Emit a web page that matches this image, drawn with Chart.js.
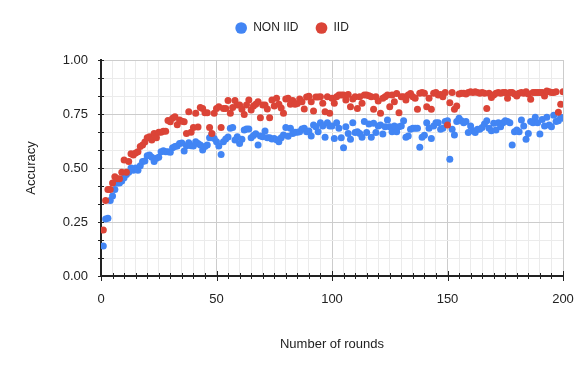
<!DOCTYPE html>
<html>
<head>
<meta charset="utf-8">
<script src="https://cdn.jsdelivr.net/npm/chart.js@4.4.1/dist/chart.umd.min.js"></script>
<style>
  html, body { margin: 0; padding: 0; background: #ffffff; }
  #wrap { width: 584px; height: 371px; position: relative; }
</style>
</head>
<body>
<div id="wrap"><canvas id="c" width="584" height="371"></canvas></div>
<script>
// ---- data ----
const seriesNames = ["NON IID", "IID"];
const rounds = Array.from({ length: 200 }, (_, i) => i + 1);

const nonIid = [
  0.139, 0.264, 0.267, 0.350, 0.370, 0.400, 0.430, 0.430, 0.440, 0.455,
  0.470, 0.480, 0.500, 0.490, 0.500, 0.490, 0.510, 0.530, 0.532, 0.557,
  0.560, 0.550, 0.530, 0.545, 0.550, 0.575, 0.580, 0.575, 0.575, 0.573,
  0.594, 0.599, 0.602, 0.614, 0.616, 0.579, 0.603, 0.617, 0.603, 0.602,
  0.622, 0.614, 0.606, 0.583, 0.599, 0.606, 0.640, 0.656, 0.637, 0.622,
  0.602, 0.563, 0.622, 0.634, 0.643, 0.684, 0.687, 0.630, 0.645, 0.614,
  0.633, 0.676, 0.681, 0.681, 0.640, 0.650, 0.659, 0.606, 0.648, 0.645,
  0.671, 0.640, 0.640, 0.634, 0.637, 0.631, 0.622, 0.640, 0.653, 0.687,
  0.647, 0.684, 0.660, 0.665, 0.665, 0.668, 0.681, 0.684, 0.668, 0.671,
  0.648, 0.699, 0.691, 0.668, 0.710, 0.694, 0.642, 0.710, 0.694, 0.694,
  0.637, 0.710, 0.684, 0.640, 0.594, 0.691, 0.660, 0.633, 0.710, 0.664,
  0.668, 0.660, 0.642, 0.715, 0.664, 0.704, 0.642, 0.707, 0.664, 0.694,
  0.699, 0.657, 0.691, 0.722, 0.691, 0.668, 0.694, 0.668, 0.691, 0.694,
  0.719, 0.642, 0.648, 0.679, 0.684, 0.684, 0.684, 0.596, 0.642, 0.652,
  0.710, 0.684, 0.637, 0.694, 0.710, 0.710, 0.679, 0.684, 0.715, 0.719,
  0.540, 0.679, 0.653, 0.715, 0.730, 0.719, 0.710, 0.715, 0.664, 0.694,
  0.673, 0.664, 0.679, 0.679, 0.688, 0.704, 0.719, 0.684, 0.673, 0.707,
  0.676, 0.710, 0.691, 0.710, 0.719, 0.715, 0.710, 0.606, 0.668, 0.676,
  0.668, 0.722, 0.694, 0.633, 0.660, 0.715, 0.710, 0.735, 0.710, 0.657,
  0.725, 0.694, 0.735, 0.699, 0.691, 0.744, 0.715, 0.719, 0.735, 0.730
];

const iid = [
  0.213, 0.350, 0.400, 0.400, 0.430, 0.460, 0.450, 0.450, 0.480, 0.537,
  0.480, 0.530, 0.566, 0.560, 0.570, 0.575, 0.600, 0.607, 0.620, 0.640,
  0.645, 0.630, 0.660, 0.640, 0.665, 0.665, 0.670, 0.670, 0.720, 0.714,
  0.730, 0.737, 0.700, 0.722, 0.717, 0.714, 0.660, 0.760, 0.665, 0.687,
  0.753, 0.690, 0.780, 0.776, 0.756, 0.756, 0.687, 0.660, 0.753, 0.776,
  0.784, 0.687, 0.776, 0.776, 0.812, 0.753, 0.780, 0.813, 0.792, 0.792,
  0.772, 0.748, 0.792, 0.815, 0.769, 0.787, 0.795, 0.807, 0.733, 0.792,
  0.792, 0.773, 0.733, 0.815, 0.787, 0.823, 0.795, 0.778, 0.753, 0.819,
  0.823, 0.795, 0.813, 0.795, 0.799, 0.819, 0.807, 0.773, 0.829, 0.832,
  0.807, 0.764, 0.829, 0.829, 0.830, 0.800, 0.760, 0.830, 0.753, 0.823,
  0.800, 0.830, 0.838, 0.838, 0.838, 0.815, 0.840, 0.784, 0.820, 0.830,
  0.776, 0.830, 0.800, 0.838, 0.838, 0.835, 0.830, 0.772, 0.830, 0.810,
  0.753, 0.823, 0.830, 0.838, 0.784, 0.838, 0.807, 0.845, 0.756, 0.830,
  0.830, 0.815, 0.838, 0.845, 0.830, 0.823, 0.772, 0.846, 0.850, 0.846,
  0.784, 0.823, 0.772, 0.846, 0.850, 0.838, 0.840, 0.830, 0.849, 0.699,
  0.802, 0.849, 0.772, 0.787, 0.843, 0.846, 0.846, 0.843, 0.849, 0.853,
  0.849, 0.853, 0.849, 0.846, 0.849, 0.846, 0.776, 0.846, 0.826, 0.838,
  0.846, 0.849, 0.846, 0.849, 0.849, 0.823, 0.849, 0.849, 0.843, 0.833,
  0.846, 0.849, 0.846, 0.853, 0.843, 0.818, 0.849, 0.849, 0.849, 0.849,
  0.849, 0.833, 0.857, 0.853, 0.849, 0.849, 0.853, 0.758, 0.795, 0.853
];

const xTickLabels = ["0", "50", "100", "150", "200"];
const yTickLabels = ["0.00", "0.25", "0.50", "0.75", "1.00"];

// ---- build ----
const FONT = "'Liberation Sans', Arial, sans-serif";
const BLUE = "#4285f4";
const RED = "#db4437";

function pts(vals) { return vals.map((v, i) => ({ x: rounds[i], y: v })); }

const legendSpace = {
  id: 'legendSpace',
  beforeInit(chart) {
    const orig = chart.legend.fit;
    chart.legend.fit = function () {
      orig.bind(chart.legend)();
      this.height = 55;
    };
  }
};

const axisTicks = {
  id: 'axisTicks',
  beforeDatasetsDraw(chart) {
    const { ctx, chartArea, scales: { x, y } } = chart;
    ctx.save();
    ctx.strokeStyle = '#222';
    ctx.lineWidth = 1;
    ctx.beginPath();
    x.ticks.forEach((t, i) => {
      const px = Math.round(x.getPixelForValue(t.value)) + 0.5;
      const len = (i % 10 === 0) ? 5 : 3;
      ctx.moveTo(px, chartArea.bottom - len);
      ctx.lineTo(px, chartArea.bottom + len);
    });
    y.ticks.forEach((t) => {
      const py = Math.round(y.getPixelForValue(t.value)) + 0.5;
      ctx.moveTo(chartArea.left - 3, py);
      ctx.lineTo(chartArea.left + 3, py);
    });
    ctx.stroke();
    ctx.restore();
  }
};

new Chart(document.getElementById('c'), {
  type: 'scatter',
  data: {
    datasets: [
      { label: seriesNames[0], data: pts(nonIid), backgroundColor: BLUE, borderColor: BLUE,
        pointRadius: 3.5, pointHoverRadius: 3.5, borderWidth: 0, order: 1 },
      { label: seriesNames[1], data: pts(iid), backgroundColor: RED, borderColor: RED,
        pointRadius: 3.5, pointHoverRadius: 3.5, borderWidth: 0, order: 0 }
    ]
  },
  options: {
    responsive: false,
    animation: false,
    events: [],
    layout: { padding: { top: 5, left: 21, right: 21, bottom: 0 } },
    plugins: {
      tooltip: { enabled: false },
      legend: {
        position: 'top',
        labels: {
          usePointStyle: true,
          pointStyle: 'circle',
          boxWidth: 12,
          boxHeight: 8.3,
          padding: 17,
          color: '#222',
          font: { family: FONT, size: 12 },
          sort: (a, b) => a.datasetIndex - b.datasetIndex
        }
      }
    },
    scales: {
      x: {
        type: 'linear',
        min: 0, max: 200,
        afterFit(s) { s.height = 95; s.paddingLeft = 0; s.paddingRight = 0; },
        ticks: {
          stepSize: 5,
          autoSkip: false,
          maxRotation: 0,
          padding: 16,
          color: '#222',
          font: { family: FONT, size: 13 },
          callback: (v, i) => (i % 10 === 0 ? xTickLabels[i / 10] : '')
        },
        grid: {
          drawTicks: false,
          color: (c) => (c.index % 10 === 0 ? '#cccccc' : '#ebebeb'),
          lineWidth: 1
        },
        border: { display: true, color: '#222', width: 2 },
        title: {
          display: true,
          text: 'Number of rounds',
          color: '#222',
          font: { family: FONT, size: 13 },
          padding: { top: 0, bottom: 19 }
        }
      },
      y: {
        type: 'linear',
        min: 0, max: 1,
        afterFit(s) { s.width = 80; },
        ticks: {
          stepSize: 1 / 12,
          autoSkip: false,
          padding: 13,
          color: '#222',
          font: { family: FONT, size: 13 },
          callback: (v, i) => (i % 3 === 0 ? yTickLabels[i / 3] : '')
        },
        grid: {
          drawTicks: false,
          color: (c) => (c.index % 3 === 0 ? '#cccccc' : '#ebebeb'),
          lineWidth: 1
        },
        border: { display: true, color: '#222', width: 2 },
        title: {
          display: true,
          text: 'Accuracy',
          color: '#222',
          font: { family: FONT, size: 13 },
          padding: { top: 3, bottom: 0 }
        }
      }
    }
  },
  plugins: [legendSpace, axisTicks]
});
</script>
</body>
</html>
